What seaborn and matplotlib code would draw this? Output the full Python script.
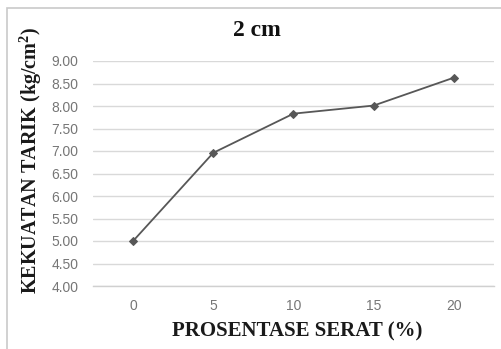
import matplotlib
matplotlib.use("Agg")
import matplotlib.pyplot as plt
import seaborn as sns
import pandas as pd
from matplotlib.patches import Rectangle

# Tensile strength versus fibre percentage (2 cm fibres)
serat = [0, 5, 10, 15, 20]
kekuatan = [5.00, 6.96, 7.83, 8.01, 8.63]
y_ticks = [4.00, 4.50, 5.00, 5.50, 6.00, 6.50, 7.00, 7.50, 8.00, 8.50, 9.00]

df = pd.DataFrame({"serat": [str(s) for s in serat], "kekuatan": kekuatan})

sns.set_theme(style="white")
W, H = 502, 349
fig = plt.figure(figsize=(W / 100, H / 100), dpi=100)
fig.patch.set_facecolor("white")

# outer chart frame
fig.patches.append(Rectangle((7.5 / W, -0.1), 1.2, 1 - 8 / H + 0.1,
                             transform=fig.transFigure, fill=False,
                             edgecolor="#c9c9c9", linewidth=1.2))

ax = fig.add_axes([93 / W, (H - 286) / H, 401 / W, 225 / H])
sns.lineplot(data=df, x="serat", y="kekuatan", ax=ax, sort=False,
             color="#575757", linewidth=1.3, marker="D", markersize=4,
             markeredgecolor="#575757", markerfacecolor="#575757")

ax.set_xlim(-0.5, len(serat) - 0.5)
ax.set_ylim(4.0, 9.0)
ax.set_yticks(y_ticks)
ax.set_yticklabels([f"{v:.2f}" for v in y_ticks])
ax.grid(axis="y", color="#d9d9d9", linewidth=1.0)
ax.grid(axis="x", visible=False)
ax.set_axisbelow(True)
for side in ["left", "right", "top"]:
    ax.spines[side].set_visible(False)
ax.spines["bottom"].set_color("#d0d0d0")
ax.spines["bottom"].set_linewidth(1.0)

ax.tick_params(axis="both", length=0, colors="#767676", labelsize=10)
ax.tick_params(axis="y", pad=10.5)
ax.tick_params(axis="x", pad=9)
for lab in ax.get_xticklabels() + ax.get_yticklabels():
    lab.set_fontfamily("Liberation Sans")

serif = "Liberation Serif"
ax.set_xlabel("PROSENTASE SERAT (%)", fontfamily=serif, fontweight="bold",
              fontsize=15, color="#1a1a1a", va="center")
ax.xaxis.set_label_coords(0.509, -0.2)
ax.set_ylabel("KEKUATAN TARIK (kg/cm$^\\mathregular{2}$)", fontfamily=serif,
              fontweight="bold", fontsize=14.5, color="#1a1a1a", va="center")
ax.yaxis.set_label_coords((31 - 93) / 401, 0.558)
fig.text(257 / W, 1 - 30 / H, "2 cm", ha="center", va="center",
         fontfamily=serif, fontweight="bold", fontsize=17, color="#111111")

fig.savefig("out.png", dpi=100)
